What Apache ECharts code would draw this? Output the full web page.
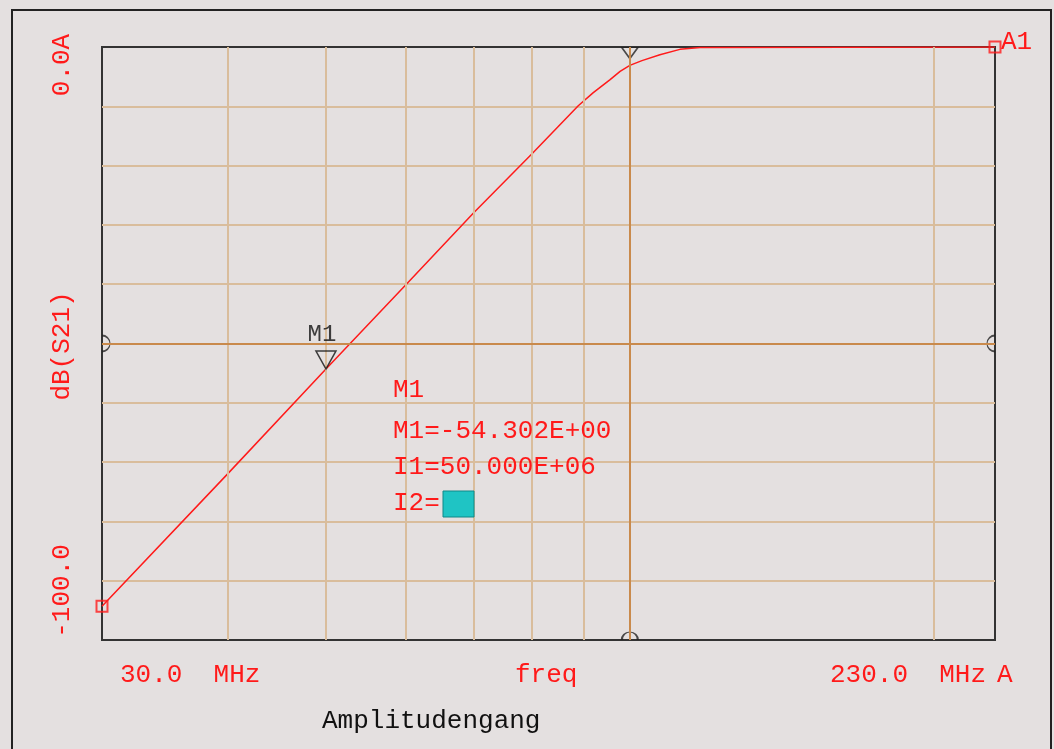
<!DOCTYPE html>
<html>
<head>
<meta charset="utf-8">
<title>Amplitudengang</title>
<script src="https://cdn.jsdelivr.net/npm/echarts@6/dist/echarts.min.js"></script>
<style>
  html, body { margin: 0; padding: 0; background: #e4e0e0; }
  #chart { width: 1054px; height: 749px; }
</style>
</head>
<body>
<div id="chart"></div>
<script>
// S21 trace (freq in MHz, dB)
const freqMHz = [30, 40, 50, 60, 70, 80, 88.9, 92, 95.6, 97.8, 100, 102.8, 107.1, 112.1, 117.4, 230];
const dbS21 = [-94.3, -71.9, -54.3, -40.1, -28.0, -18.0, -9.9, -7.7, -5.5, -4.1, -3.1, -2.3, -1.3, -0.4, -0.1, 0];

// grid / cursor lines
const gridFreqs = [40, 50, 60, 70, 80, 90, 200];
const cursorFreq = [100];
const cursorDb = [-50];

// marker M1
const m1Freq = 50;
const m1Db = -54.302;

const RED = '#ff1a1a';
const TAN = '#d9bd9c';
const BROWN = '#c98a4c';
const FONT = '"Liberation Mono", "DejaVu Sans Mono", monospace';

const myChart = echarts.init(document.getElementById('chart'));

// plain text helper for the graphic layer
function txt(text, x, y, color, rotated) {
  return {
    type: 'text',
    x: x,
    y: y,
    z: 100,
    silent: true,
    rotation: rotated ? Math.PI / 2 : 0,
    style: {
      text: text,
      fill: color,
      font: '26px ' + FONT,
      textAlign: rotated ? 'center' : 'left',
      textVerticalAlign: 'middle'
    }
  };
}

const traceData = freqMHz.map((f, i) => [f, dbS21[i]]);
const ends = [traceData[0], traceData[traceData.length - 1]];

const option = {
  backgroundColor: '#e4e0e0',
  animation: false,
  grid: {
    left: 102,
    top: 47,
    width: 893,
    height: 593,
    show: true,
    borderColor: '#333',
    borderWidth: 2,
    backgroundColor: 'transparent'
  },
  xAxis: {
    type: 'log',
    logBase: 10,
    min: 30,
    max: 230,
    axisLine: { show: false },
    axisTick: { show: false },
    axisLabel: { show: false },
    splitLine: { show: false },
    minorSplitLine: { show: false }
  },
  yAxis: {
    type: 'value',
    min: -100,
    max: 0,
    interval: 10,
    axisLine: { show: false },
    axisTick: { show: false },
    axisLabel: { show: false },
    splitLine: { show: true, showMinLine: false, showMaxLine: false, lineStyle: { color: TAN, width: 2 } }
  },
  series: [
    {
      // grid lines and cursors
      type: 'line',
      data: [],
      z: 1,
      markLine: {
        silent: true,
        symbol: ['none', 'none'],
        label: { show: false },
        data: [
          ...gridFreqs.map(f => ({ xAxis: f, lineStyle: { color: TAN, width: 2, type: 'solid' } })),
          ...cursorFreq.map(f => ({ xAxis: f, lineStyle: { color: BROWN, width: 2, type: 'solid' } })),
          ...cursorDb.map(v => ({ yAxis: v, lineStyle: { color: BROWN, width: 2, type: 'solid' } }))
        ]
      }
    },
    {
      name: 'dB(S21)',
      type: 'line',
      data: traceData,
      showSymbol: false,
      z: 3,
      lineStyle: { color: RED, width: 1.5 }
    },
    {
      type: 'scatter',
      data: ends,
      symbol: 'rect',
      symbolSize: 11,
      clip: false,
      z: 4,
      itemStyle: { color: 'rgba(0,0,0,0)', borderColor: RED, borderWidth: 2 }
    },
    {
      // cursor end markers
      type: 'scatter',
      clip: false,
      z: 4,
      itemStyle: { color: 'rgba(0,0,0,0)', borderColor: '#222', borderWidth: 1.5 },
      data: [
        { value: [cursorFreq[0], 0], symbol: 'path://M0,0 L16,0 L8,11 Z', symbolSize: [16, 11], symbolOffset: [0, 6] },
        { value: [cursorFreq[0], -100], symbol: 'path://M0,8 A8,8 0 0 1 16,8', symbolSize: [16, 8], symbolOffset: [0, -4] },
        { value: [30, cursorDb[0]], symbol: 'path://M0,0 A8,8 0 0 1 0,16', symbolSize: [8, 16], symbolOffset: [4, 0] },
        { value: [230, cursorDb[0]], symbol: 'path://M8,0 A8,8 0 0 0 8,16', symbolSize: [8, 16], symbolOffset: [-4, 0] }
      ]
    },
    {
      // marker M1
      type: 'scatter',
      z: 5,
      data: [[m1Freq, m1Db]],
      symbol: 'path://M0,0 L20,0 L10,18 Z',
      symbolSize: [20, 18],
      symbolOffset: [0, -9],
      itemStyle: { color: 'rgba(0,0,0,0)', borderColor: '#111', borderWidth: 1.5 },
      label: {
        show: true,
        position: 'top',
        distance: 4,
        offset: [-4, 0],
        formatter: 'M1',
        color: '#111',
        fontFamily: FONT,
        fontSize: 24
      }
    }
  ],
  graphic: [
    {
      type: 'rect',
      silent: true,
      z: 100,
      shape: { x: 12, y: 10, width: 1039, height: 760 },
      style: { fill: 'none', stroke: '#222', lineWidth: 2 }
    },
    txt('0.0A', 62, 65, RED, true),
    txt('dB(S21)', 62, 346, RED, true),
    txt('-100.0', 62, 591, RED, true),
    txt('30.0  MHz', 120, 675, RED),
    txt('freq', 515, 675, RED),
    txt('230.0  MHz', 830, 675, RED),
    txt('A', 997, 675, RED),
    txt('Amplitudengang', 322, 721, '#111'),
    txt('A1', 1001, 42, RED),
    txt('M1', 393, 390, RED),
    txt('M1=-54.302E+00', 393, 431, RED),
    txt('I1=50.000E+06', 393, 467, RED),
    txt('I2=', 393, 503, RED),
    {
      type: 'rect',
      silent: true,
      z: 100,
      shape: { x: 443, y: 491, width: 31, height: 26 },
      style: { fill: '#1fc4c4', stroke: '#118888', lineWidth: 1 }
    }
  ]
};

myChart.setOption(option);
</script>
</body>
</html>
